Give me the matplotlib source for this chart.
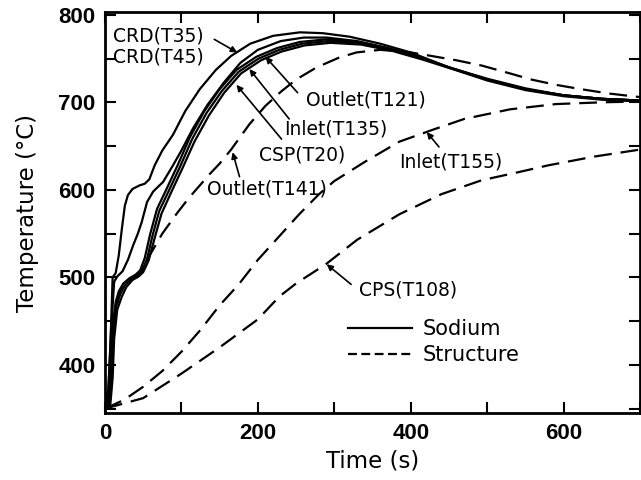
import numpy as np
import matplotlib
matplotlib.use('Agg')
import matplotlib.pyplot as plt
from matplotlib.lines import Line2D

# sodium temperatures (solid lines)
t_crd35 = [0, 4, 7, 10, 14, 18, 22, 26, 30, 36, 45, 52, 58, 65, 75, 89, 105, 124, 145, 165,
           190, 220, 255, 285, 320, 360, 400, 450, 500, 550, 600, 650, 700]
T_crd35 = [350, 362, 420, 500, 505, 525, 555, 582, 594, 601, 605, 607, 612, 628, 645, 663, 690, 715, 737, 753,
           767, 776, 780, 779, 775, 767, 757, 740, 726, 715, 708, 704, 702]

t_crd45 = [0, 4, 8, 12, 16, 23, 30, 37, 43, 48, 55, 63, 70, 76, 89, 100, 115, 134, 155, 177,
           200, 230, 260, 290, 330, 360, 400, 450, 500, 550, 600, 650, 700]
T_crd45 = [350, 365, 440, 495, 501, 507, 520, 537, 550, 563, 586, 598, 604, 609, 628, 645, 670, 697, 722, 745,
           760, 770, 774, 774, 770, 764, 755, 740, 726, 715, 708, 704, 702]

t_out121 = [0, 5, 8, 10, 14, 18, 24, 32, 40, 46, 52, 59, 68, 80, 95, 111, 130, 150, 172, 198,
            225, 255, 290, 330, 370, 410, 450, 500, 550, 600, 650, 700]
T_out121 = [350, 358, 400, 445, 472, 484, 493, 499, 503, 508, 522, 549, 578, 600, 628, 660, 690, 715, 737, 752,
            762, 769, 772, 769, 762, 752, 740, 727, 716, 708, 704, 702]

t_in135 = [0, 6, 9, 11, 15, 20, 26, 34, 42, 48, 55, 62, 71, 83, 98, 114, 133, 153, 175, 201,
           228, 258, 292, 332, 372, 412, 452, 500, 550, 600, 650, 700]
T_in135 = [350, 356, 392, 438, 468, 481, 491, 498, 502, 507, 521, 547, 576, 598, 626, 658, 688, 713, 735, 750,
           760, 767, 770, 768, 761, 751, 739, 726, 715, 708, 704, 702]

t_csp20 = [0, 7, 10, 12, 16, 22, 28, 36, 44, 50, 57, 65, 74, 86, 101, 117, 136, 156, 178, 204,
           231, 261, 295, 335, 375, 415, 455, 500, 550, 600, 650, 700]
T_csp20 = [350, 355, 385, 430, 463, 478, 489, 497, 501, 506, 519, 545, 573, 596, 624, 655, 685, 711, 733, 748,
           758, 765, 768, 766, 759, 749, 738, 725, 714, 707, 703, 701]

# structure temperatures (dashed lines)
t_out141 = [0, 8, 12, 20, 35, 48, 59, 75, 94, 110, 124, 137, 150, 165, 189, 210, 230, 250, 277, 306,
            329, 360, 400, 427, 460, 493, 530, 558, 590, 623, 660, 700]
T_out141 = [350, 395, 455, 485, 498, 507, 526, 550, 573, 591, 605, 618, 630, 646, 675, 696, 712, 726, 740, 751,
            757, 760, 757, 753, 748, 742, 733, 726, 720, 715, 710, 706]

t_in155 = [0, 25, 50, 75, 100, 125, 150, 175, 200, 225, 254, 280, 300, 340, 385, 430, 470, 530, 590, 650, 700]
T_in155 = [350, 360, 375, 393, 415, 440, 468, 492, 520, 544, 572, 595, 610, 632, 655, 669, 681, 692, 698, 700, 701]

t_cps108 = [0, 50, 100, 150, 200, 228, 250, 289, 330, 385, 440, 493, 540, 580, 640, 700]
T_cps108 = [350, 362, 390, 420, 452, 478, 493, 515, 543, 572, 595, 611, 620, 628, 638, 646]

sodium = [(t_crd35, T_crd35), (t_crd45, T_crd45), (t_out121, T_out121),
          (t_in135, T_in135), (t_csp20, T_csp20)]
structure = [(t_out141, T_out141), (t_in155, T_in155), (t_cps108, T_cps108)]

# label text, text position (left, middle), arrow start, arrow end
labels = [
    ('CRD(T35)', (10, 776), (143, 772), (173, 757)),
    ('CRD(T45)', (10, 752), None, None),
    ('Outlet(T121)', (263, 703), (252, 711), (210, 752)),
    ('Inlet(T135)', (235, 669), (241, 681), (189, 738)),
    ('CSP(T20)', (202, 640), (231, 658), (172, 720)),
    ('Outlet(T141)', (133, 601), (176, 615), (167, 643)),
    ('Inlet(T155)', (385, 632), (437, 649), (421, 666)),
    ('CPS(T108)', (333, 485), (322, 492), (290, 515)),
]

tick_font = ['Liberation Sans', 'DejaVu Sans']

fig = plt.figure(figsize=(6.41, 4.8), dpi=100)
ax = fig.add_axes([0.1638, 0.1396, 0.8346, 0.835])

for t, T in sodium:
    ax.plot(t, T, color='black', lw=1.6, solid_joinstyle='round')
for t, T in structure:
    ax.plot(t, T, color='black', lw=1.6, dashes=(8, 4))

for txt, pos, a0, a1 in labels:
    ax.text(pos[0], pos[1], txt, fontsize=13.5, ha='left', va='center')
    if a0 is not None:
        ax.annotate('', xy=a1, xytext=a0,
                    arrowprops=dict(arrowstyle='-|>', color='black', lw=1.2,
                                    mutation_scale=9, shrinkA=0, shrinkB=0))

handles = [Line2D([], [], color='black', lw=1.6),
           Line2D([], [], color='black', lw=1.6, dashes=(4, 2))]
ax.legend(handles, ['Sodium', 'Structure'], loc='upper left',
          bbox_to_anchor=(0.454, 0.235), frameon=False, fontsize=15,
          handlelength=3.1, handletextpad=0.5, labelspacing=0.3,
          borderpad=0, borderaxespad=0)

ax.set_xlim(0, 698)
ax.set_ylim(345, 803)
ax.set_xticks(range(0, 701, 100))
ax.set_xticklabels([str(v) if v % 200 == 0 else '' for v in range(0, 701, 100)])
ax.set_yticks(range(400, 801, 100))
ax.set_yticks(range(350, 801, 50), minor=True)
ax.tick_params(which='both', direction='in', top=True, right=True,
               length=8, width=1.5, pad=7)
for lab in ax.get_xticklabels() + ax.get_yticklabels():
    lab.set_family(tick_font)
    lab.set_fontweight('bold')
    lab.set_fontsize(16)
for sp in ax.spines.values():
    sp.set_linewidth(2)

ax.set_xlabel('Time (s)', fontsize=16.5, labelpad=4)
ax.set_ylabel('Temperature (\u00b0C)', fontsize=16.5, labelpad=14)

fig.savefig('out.png', dpi=100)
